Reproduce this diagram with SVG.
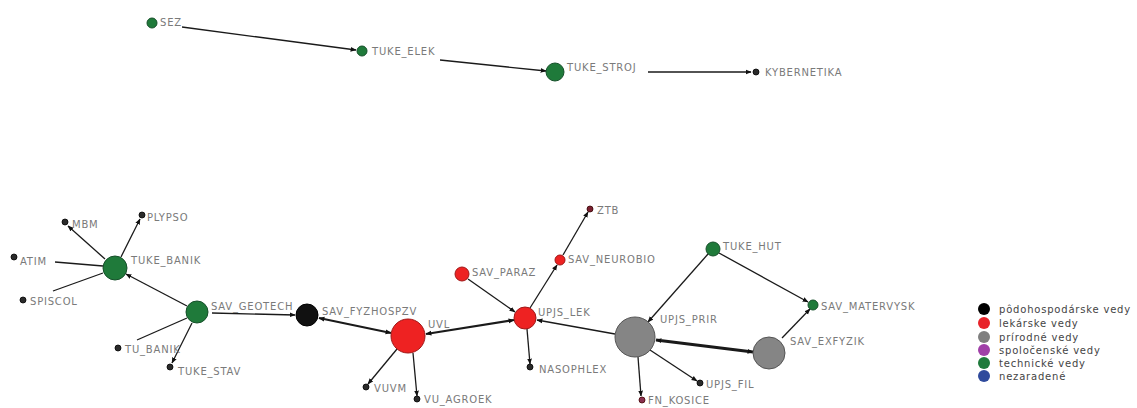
<svg xmlns="http://www.w3.org/2000/svg" width="1137" height="408" viewBox="0 0 1137 408">
<style>
.e{stroke:#1a1a1a;stroke-width:1.3;fill:none}
.e2{stroke:#1a1a1a;stroke-width:2.2;fill:none}
.e3{stroke:#1a1a1a;stroke-width:3;fill:none}
.lb{font-family:"DejaVu Sans",Verdana,sans-serif;font-size:10px;letter-spacing:0.8px;fill:#7a7a7a}
.lg{font-family:"DejaVu Sans",Verdana,sans-serif;font-size:10px;letter-spacing:0.8px;fill:#444}
.g{fill:#1f7a3a;stroke:#16502a;stroke-width:1}
.r{fill:#ee2222;stroke:#a01818;stroke-width:1}
.y{fill:#858585;stroke:#555;stroke-width:1}
.k{fill:#111;stroke:#000;stroke-width:1}
.s{fill:#2a2a2a;stroke:#000;stroke-width:0.8}
</style>
<defs>
<marker id="a" viewBox="0 0 10 10" refX="9" refY="5" markerWidth="6" markerHeight="6" markerUnits="userSpaceOnUse" orient="auto-start-reverse"><path d="M0,1 L10,5 L0,9 z" fill="#111"/></marker>
</defs>
<g id="connectors">
<path class="e" d="M182,27 L356,50" marker-end="url(#a)"/>
<path class="e" d="M440,60 L546,71" marker-end="url(#a)"/>
<path class="e" d="M648,72 L751,72" marker-end="url(#a)"/>
<path class="e" d="M105,259 L68,226" marker-end="url(#a)"/>
<path class="e" d="M121,257 L140,219" marker-end="url(#a)"/>
<path class="e" d="M103,266 L55,262"/>
<path class="e" d="M103,273 L53,291"/>
<path class="e" d="M187,306 L126,274" marker-end="url(#a)"/>
<path class="e" d="M187,318 L137,340"/>
<path class="e" d="M192,323 L172,363" marker-end="url(#a)"/>
<path class="e" d="M212,313 L295,315" marker-end="url(#a)"/>
<path class="e2" d="M319,318 L391,333" marker-start="url(#a)" marker-end="url(#a)"/>
<path class="e2" d="M426,334 L514,320" marker-start="url(#a)" marker-end="url(#a)"/>
<path class="e" d="M397,349 L368,384" marker-end="url(#a)"/>
<path class="e" d="M413,353 L417,396" marker-end="url(#a)"/>
<path class="e" d="M468,279 L515,312" marker-end="url(#a)"/>
<path class="e" d="M530,308 L557,265" marker-end="url(#a)"/>
<path class="e" d="M563,255 L588,212" marker-end="url(#a)"/>
<path class="e" d="M527,329 L530,364" marker-end="url(#a)"/>
<path class="e" d="M615,334 L537,320" marker-end="url(#a)"/>
<path class="e" d="M708,254 L648,322" marker-end="url(#a)"/>
<path class="e" d="M719,253 L808,302" marker-end="url(#a)"/>
<path class="e" d="M782,338 L810,309" marker-end="url(#a)"/>
<path class="e3" d="M656,340 L753,352" marker-start="url(#a)" marker-end="url(#a)"/>
<path class="e" d="M650,350 L697,381" marker-end="url(#a)"/>
<path class="e" d="M638,357 L641,396" marker-end="url(#a)"/>
</g>
<g id="SEZ"><circle class="g" cx="152" cy="23" r="5"/><text class="lb" x="160" y="26">SEZ</text></g>
<g id="TUKE_ELEK"><circle class="g" cx="362" cy="51" r="5"/><text class="lb" x="372" y="55">TUKE_ELEK</text></g>
<g id="TUKE_STROJ"><circle class="g" cx="555" cy="72" r="9"/><text class="lb" x="567" y="71">TUKE_STROJ</text></g>
<g id="KYBERNETIKA"><circle class="s" cx="756" cy="72" r="3"/><text class="lb" x="765" y="76">KYBERNETIKA</text></g>
<g id="MBM"><circle class="s" cx="65" cy="222" r="3"/><text class="lb" x="72" y="228">MBM</text></g>
<g id="PLYPSO"><circle class="s" cx="142" cy="215" r="3"/><text class="lb" x="147" y="221">PLYPSO</text></g>
<g id="ATIM"><circle class="s" cx="14" cy="257" r="3"/><text class="lb" x="20" y="265">ATIM</text></g>
<g id="SPISCOL"><circle class="s" cx="23" cy="300" r="3"/><text class="lb" x="30" y="305">SPISCOL</text></g>
<g id="TUKE_BANIK"><circle class="g" cx="115" cy="268" r="12"/><text class="lb" x="131" y="264">TUKE_BANIK</text></g>
<g id="SAV_GEOTECH"><circle class="g" cx="197" cy="312" r="11"/><text class="lb" x="211" y="310">SAV_GEOTECH</text></g>
<g id="TU_BANIK"><circle class="s" cx="118" cy="348" r="3"/><text class="lb" x="125" y="353">TU_BANIK</text></g>
<g id="TUKE_STAV"><circle class="s" cx="170" cy="367" r="3"/><text class="lb" x="178" y="375">TUKE_STAV</text></g>
<g id="SAV_FYZHOSPZV"><circle class="k" cx="307" cy="315" r="11"/><text class="lb" x="322" y="315">SAV_FYZHOSPZV</text></g>
<g id="UVL"><circle class="r" cx="408" cy="336" r="17"/><text class="lb" x="428" y="328">UVL</text></g>
<g id="SAV_PARAZ"><circle class="r" cx="462" cy="274" r="7"/><text class="lb" x="472" y="276">SAV_PARAZ</text></g>
<g id="UPJS_LEK"><circle class="r" cx="525" cy="318" r="11"/><text class="lb" x="538" y="316">UPJS_LEK</text></g>
<g id="SAV_NEUROBIO"><circle class="r" cx="560" cy="260" r="5"/><text class="lb" x="568" y="263">SAV_NEUROBIO</text></g>
<g id="ZTB"><circle cx="590" cy="209" r="3" fill="#7a2030" stroke="#300" stroke-width="0.8"/><text class="lb" x="597" y="214">ZTB</text></g>
<g id="NASOPHLEX"><circle class="s" cx="530" cy="367" r="3"/><text class="lb" x="539" y="373">NASOPHLEX</text></g>
<g id="VUVM"><circle class="s" cx="366" cy="387" r="3"/><text class="lb" x="374" y="392">VUVM</text></g>
<g id="VU_AGROEK"><circle class="s" cx="417" cy="399" r="3"/><text class="lb" x="424" y="403">VU_AGROEK</text></g>
<g id="TUKE_HUT"><circle class="g" cx="713" cy="249" r="7"/><text class="lb" x="723" y="250">TUKE_HUT</text></g>
<g id="SAV_MATERVYSK"><circle class="g" cx="813" cy="305" r="5"/><text class="lb" x="821" y="310">SAV_MATERVYSK</text></g>
<g id="UPJS_PRIR"><circle class="y" cx="635" cy="337" r="20"/><text class="lb" x="660" y="323">UPJS_PRIR</text></g>
<g id="SAV_EXFYZIK"><circle class="y" cx="769" cy="353" r="16"/><text class="lb" x="790" y="345">SAV_EXFYZIK</text></g>
<g id="UPJS_FIL"><circle class="s" cx="700" cy="383" r="3"/><text class="lb" x="706" y="388">UPJS_FIL</text></g>
<g id="FN_KOSICE"><circle cx="642" cy="400" r="3" fill="#8a3050" stroke="#400" stroke-width="0.8"/><text class="lb" x="648" y="404">FN_KOSICE</text></g>
<g id="legend">
<circle cx="984" cy="309" r="6" fill="#000"/><text class="lg" x="999" y="313">pôdohospodárske vedy</text>
<circle cx="984" cy="323" r="6" fill="#e8232a"/><text class="lg" x="999" y="327">lekárske vedy</text>
<circle cx="984" cy="337" r="6" fill="#7f7f7f"/><text class="lg" x="999" y="341">prírodné vedy</text>
<circle cx="984" cy="350" r="6" fill="#a040a8"/><text class="lg" x="999" y="354">spoločenské vedy</text>
<circle cx="984" cy="363" r="6" fill="#1f7a3c"/><text class="lg" x="999" y="367">technické vedy</text>
<circle cx="984" cy="376" r="6" fill="#2f4a9c"/><text class="lg" x="999" y="380">nezaradené</text>
</g>
</svg>
